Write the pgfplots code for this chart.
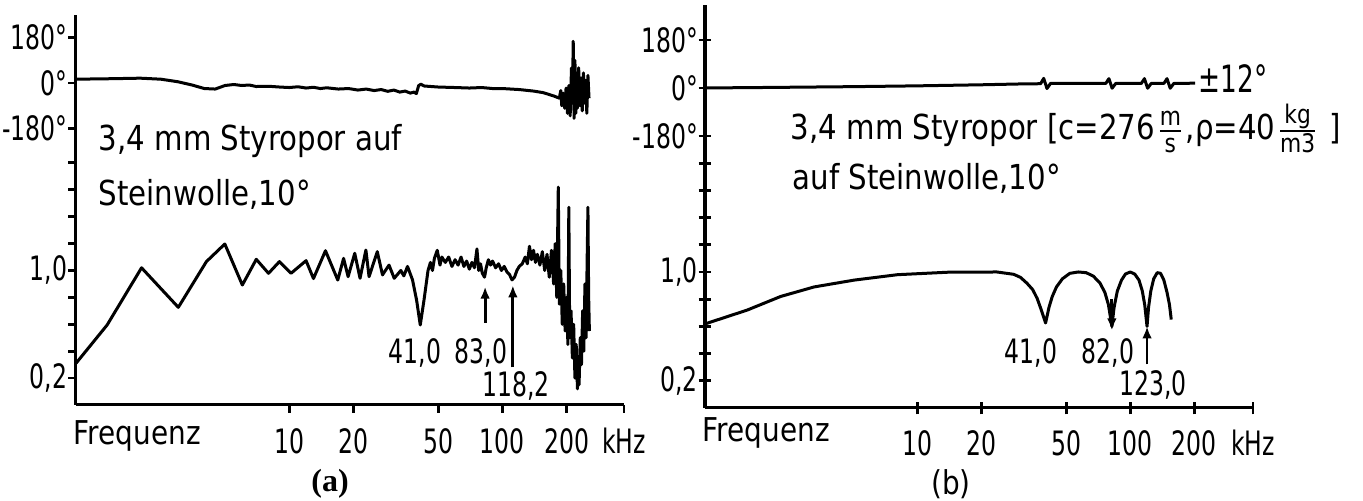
\documentclass[border=0pt]{standalone}
\usepackage{fontspec}
\setmainfont{DejaVu Sans}[FakeStretch=0.85]
\newfontfamily\narrowfont{DejaVu Sans}[FakeStretch=0.7]
\newfontfamily\capserif{Liberation Serif}
\usepackage{pgfplots}
\pgfplotsset{compat=1.18}
\usetikzlibrary{arrows.meta}

\newcommand\num{\narrowfont\fontsize{8.4}{9}\selectfont}
\newcommand\txt{\fontsize{8.6}{10}\selectfont}
\newcommand\sm{\fontsize{6.4}{7}\selectfont}

\pgfplotsset{
  /pgfplots/skaxis/.style={
    scale only axis, width=137pt, xmin=1,
    axis x line=bottom, axis y line=left,
    axis line style={-, line width=0.75pt},
    tick style={line width=0.7pt, black},
    xminorticks=false, yminorticks=false,
    /pgf/number format/assume math mode=true,
    tick label style={font=\num},
    xticklabel style={anchor=base, yshift=-10.25pt, inner sep=0pt},
    yticklabel style={anchor=east, inner sep=0pt},
    clip=false,
  },
  every axis plot/.append style={line width=0.75pt, black, line join=round},
}

\begin{document}
\begin{tikzpicture}[x=0.25pt,y=0.25pt]
\useasboundingbox (0,0) rectangle (1363,501);

% ---------------- panel (a) ----------------
\begin{semilogxaxis}[skaxis, at={(19pt,24pt)}, anchor=south west, height=97.5pt,
  xmax=372, ymin=0, ymax=2.8996,
  tick align=outside, major tick length=2pt,
  xtick={10,20,50,100,200,372}, xticklabels={10,20,50,100,200,kHz},
  ytick={0.2,0.4,0.6,0.8,1.0,1.2,1.4,1.6,1.8},
  yticklabels={{0,2},{},{},{},{1,0},{},{},{},{}}]
\addplot[mark=none] coordinates {
(1.0,0.31) (1.4,0.595) (2.03,1.02) (3.02,0.726) (4.09,1.066) (4.99,1.197)
(6.03,0.892) (7.01,1.083) (8.0,0.979) (9.0,1.066) (10.2,0.979) (12.0,1.073)
(13.0,0.94) (14.8,1.147) (16.9,0.929) (18.0,1.09) (18.9,0.954) (20.3,1.128)
(21.5,0.942) (22.9,1.152) (23.7,0.954) (25.9,1.14) (27.4,0.967) (29.4,1.04)
(31.1,0.942) (33.4,1.0) (34.5,0.96) (35.9,1.03) (37.9,0.93) (39.6,0.78)
(41.2,0.595) (42.9,0.78) (44.8,1.0) (46,1.06) (47,1.0) (48,1.09) (49.5,1.15)
(51,1.04) (52,1.1) (54,1.06) (56,1.10) (58,1.03) (60,1.08) (62,1.04) (64,1.10)
(66,1.03) (68,1.07) (70,1.01) (72,1.06) (74,1.02) (76,1.16) (77.5,1.0)
(79,1.05) (80.5,0.98) (82.5,0.95) (84,1.02) (86,1.08) (88,1.04) (90,1.07)
(93,1.02) (96,1.05) (99,1.0) (102,1.03) (105,0.99) (108,0.97) (111,0.93)
(114,0.95) (117,1.0) (120,1.03) (124,1.05) (128,1.1) (131,1.05) (134,1.18)
(137,1.08) (140,1.15) (143,1.06) (146,1.12) (150,1.04) (154,1.14) (158,1.0)
(162,1.12) (166,0.95) (170,1.15) (174,0.9) (177,1.2) (180,0.8) (183,1.62)
(185,0.75) (188,1.0) (191,0.6) (194,0.9) (197,0.55) (200,0.8) (203,0.45)
(205,1.47) (207,0.5) (210,0.7) (213,0.35) (216,0.6) (219,0.2) (222,0.45)
(225,0.12) (227,0.3) (229,0.15) (232,0.5) (235,0.3) (238,0.7) (241,0.4)
(244,0.9) (247,0.5) (250,1.1) (252,1.47) (254,0.8) (256,0.55)
};
\draw[line width=0.7pt, -{Latex[length=3pt,width=2.4pt]}] (axis cs:83,0.61) -- (axis cs:83,0.88);
\draw[line width=0.7pt, -{Latex[length=3pt,width=2.4pt]}] (axis cs:112,0.28) -- (axis cs:112,0.89);
\end{semilogxaxis}

\begin{semilogxaxis}[skaxis, at={(19pt,24pt)}, anchor=south west, height=97.5pt,
  xmax=372, ymin=-1273.8, ymax=269, axis x line=none,
  tick align=outside, major tick length=2pt,
  ytick={-180,0,180}, yticklabels={-180°,0°,180°}]
\addplot[mark=none] coordinates {
(1.0,15) (1.5,17) (2.0,19) (2.5,15) (3,5) (3.5,-8) (4,-22) (4.5,-24) (5,-10)
(5.5,-6) (6,-10) (6.5,-8) (7,-14) (8,-13) (9,-16) (10,-18) (11,-15) (12,-20)
(13,-17) (14,-22) (15,-19) (17,-24) (19,-22) (21,-28) (23,-24) (25,-30)
(27,-26) (29,-33) (31,-28) (33,-36) (35,-32) (37,-40) (38.5,-36) (39.5,-42)
(40.5,-10) (41.5,-5) (43,-12) (50,-16) (60,-18) (70,-20) (80,-18) (90,-22)
(100,-22) (120,-26) (140,-32) (155,-38) (165,-45) (175,-52) (185,-60)
(188,-30) (190,-90) (193,-40) (196,-100) (199,-20) (202,-120) (205,-10)
(208,-130) (211,60) (213,-80) (215,165) (217,-140) (219,90) (221,-120)
(223,40) (225,-100) (228,60) (231,-90) (234,20) (237,-110) (240,40)
(243,-80) (246,10) (249,-120) (252,30) (255,-60)
};
\end{semilogxaxis}

\node[anchor=base west, inner sep=0pt, font=\txt] at (98,350) {3,4 mm Styropor auf};
\node[anchor=base west, inner sep=0pt, font=\txt] at (98,295) {Steinwolle,10°};
\node[anchor=base west, inner sep=0pt, font=\fontsize{8.2}{9}\selectfont] at (73,56) {Frequenz};
\node[inner sep=0pt, font=\num] at (415,148) {41,0};
\node[inner sep=0pt, font=\num] at (481,148) {83,0};
\node[inner sep=0pt, font=\num] at (516,115) {118,2};
\node[inner sep=0pt, font=\capserif\bfseries\fontsize{8}{9}\selectfont] at (330,17) {(a)};

% ---------------- panel (b) ----------------
\begin{semilogxaxis}[skaxis, at={(176.25pt,23.25pt)}, anchor=south west, height=100.75pt,
  xmax=378, ymin=0, ymax=2.963,
  tick align=center, major tick length=3.2pt,
  xtick={10,20,50,100,200,378}, xticklabels={10,20,50,100,200,kHz},
  ytick={0.2,0.4,0.6,0.8,1.0,1.2,1.4,1.6,1.8},
  yticklabels={{0,2},{},{},{},{1,0},{},{},{},{}}]
\addplot[mark=none] coordinates {
(1.0,0.618) (1.58,0.72) (2.27,0.82) (3.26,0.89) (5.02,0.94) (8.03,0.98)
(13.8,0.998) (23.6,1.0) (28.3,0.983) (30.5,0.96) (32.7,0.917) (34.8,0.87)
(36.5,0.806) (38,0.73) (40,0.625) (41.5,0.74) (43,0.82) (45,0.89) (48,0.95)
(52,0.99) (57,1.0) (62,0.995) (67,0.97) (72,0.92) (76,0.85) (79,0.76)
(82,0.6) (84,0.74) (87,0.86) (91,0.94) (95,0.985) (100,1.0) (105,0.985)
(110,0.94) (114,0.86) (117,0.76) (120,0.6) (122,0.74) (125,0.86) (129,0.95)
(134,0.995) (139,0.99) (144,0.94) (149,0.85) (153,0.76) (156,0.65)
};
\draw[line width=0.7pt, -{Latex[length=3pt,width=2.4pt]}] (axis cs:82,0.8) -- (axis cs:82,0.57);
\draw[line width=0.7pt, -{Latex[length=3pt,width=2.4pt]}] (axis cs:120,0.32) -- (axis cs:120,0.6);
\end{semilogxaxis}

\begin{semilogxaxis}[skaxis, at={(176.25pt,23.25pt)}, anchor=south west, height=100.75pt,
  xmax=378, ymin=-1200, ymax=311.25, axis x line=none,
  tick align=center, major tick length=3.2pt,
  ytick={-180,0,180}, yticklabels={-180°,0°,180°}]
\addplot[mark=none] coordinates {
(1,0) (2,2) (5,5) (10,8) (20,12) (30,15) (37.9,16) (39.2,36) (40.6,-2)
(42.2,17) (76.8,17) (79.4,35) (82.2,-1) (85.5,17) (112.8,17) (116.7,35)
(120.8,-1) (125.5,17) (144,17) (149,35) (154.3,-1) (160.4,17) (202,18)
};
\end{semilogxaxis}

\node[anchor=base west, inner sep=0pt, font=\txt] at (790,361)
  {3,4 mm Styropor [c=276$\frac{\mbox{\sm m}}{\mbox{\sm s}}$,ρ=40$\frac{\mbox{\sm kg}}{\mbox{\sm m3}}$ ]};
\node[anchor=base west, inner sep=0pt, font=\txt] at (792,311) {auf Steinwolle,10°};
\node[anchor=base west, inner sep=0pt, font=\narrowfont\fontsize{9.4}{10}\selectfont] at (1198,408) {±12°};
\node[anchor=base west, inner sep=0pt, font=\fontsize{8.2}{9}\selectfont] at (702,59) {Frequenz};
\node[inner sep=0pt, font=\num] at (1031,148) {41,0};
\node[inner sep=0pt, font=\num] at (1108,148) {82,0};
\node[inner sep=0pt, font=\num] at (1153,116) {123,0};
\node[inner sep=0pt, font=\fontsize{8.2}{9}\selectfont] at (951,17) {(b)};
\end{tikzpicture}
\end{document}
